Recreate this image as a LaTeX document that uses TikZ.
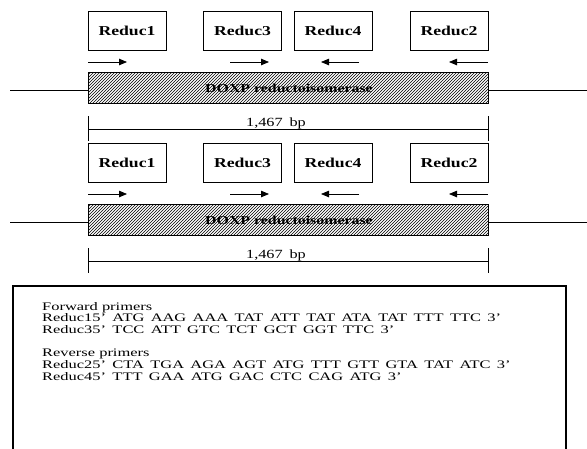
\documentclass[tikz,border=0pt]{standalone}
\usepackage{fontspec}
\setmainfont{Liberation Serif}[FakeStretch=1.3]
\newfontfamily\seqfont{Liberation Serif}[FakeStretch=1.43]
\usetikzlibrary{patterns,arrows.meta}
\newcommand\dsp{\hspace{0.55em}}
\pgfdeclarepatternformonly{densehatch}{\pgfqpoint{-1pt}{-1pt}}{\pgfqpoint{4pt}{4pt}}{\pgfqpoint{3pt}{3pt}}{%
  \pgfsetlinewidth{0.7pt}%
  \pgfpathmoveto{\pgfqpoint{0pt}{0pt}}%
  \pgfpathlineto{\pgfqpoint{3.1pt}{3.1pt}}%
  \pgfusepath{stroke}}
\begin{document}
\begin{tikzpicture}[x=1pt,y=-1pt,
  primerbox/.style={draw, line width=0.8pt, minimum width=78pt, minimum height=39pt, inner sep=0pt,
    font=\fontsize{13.6}{15}\selectfont\bfseries},
  genebox/.style={draw, line width=0.9pt, pattern=densehatch, minimum width=400pt, minimum height=31pt, inner sep=0pt},
  genelabel/.style={font=\fontsize{12.2}{14}\selectfont\bfseries, inner sep=0pt},
  primerarrow/.style={line width=0.8pt, -{Triangle[length=8pt,width=6.5pt]}},
  thinline/.style={line width=0.8pt},
  seqtext/.style={anchor=base west, inner sep=0pt, font=\seqfont\fontsize{11.5}{12}\selectfont},
  sizetext/.style={anchor=base, inner sep=0pt, font=\fontsize{12.5}{14}\selectfont}]
\useasboundingbox (0,0) rectangle (587,448);
\fill[white] (0,0) rectangle (587,448);

\foreach \oy in {0,132}{
  % primer boxes
  \node[primerbox] (r1-\oy) at (127,30.5+\oy) {Reduc1};
  \node[primerbox] (r3-\oy) at (242.5,30.5+\oy) {Reduc3};
  \node[primerbox] (r4-\oy) at (333,30.5+\oy) {Reduc4};
  \node[primerbox] (r2-\oy) at (449,30.5+\oy) {Reduc2};
  % primer arrows
  \coordinate (p1s-\oy) at (88,62+\oy);  \coordinate (p1e-\oy) at (127,62+\oy);
  \coordinate (p3s-\oy) at (230,62+\oy); \coordinate (p3e-\oy) at (269,62+\oy);
  \coordinate (p4s-\oy) at (359,62+\oy); \coordinate (p4e-\oy) at (321,62+\oy);
  \coordinate (p2s-\oy) at (488,62+\oy); \coordinate (p2e-\oy) at (449,62+\oy);
  \draw[primerarrow] (p1s-\oy) -- (p1e-\oy);
  \draw[primerarrow] (p3s-\oy) -- (p3e-\oy);
  \draw[primerarrow] (p4s-\oy) -- (p4e-\oy);
  \draw[primerarrow] (p2s-\oy) -- (p2e-\oy);
  % gene
  \node[genebox] (g-\oy) at (288,87.5+\oy) {};
  \node[genelabel] (gl-\oy) at (289,88+\oy) {DOXP reductoisomerase};
  \coordinate (fl-\oy) at (10,90+\oy);
  \coordinate (flx-\oy) at (88,90+\oy);
  \coordinate (frx-\oy) at (488,90+\oy);
  \coordinate (fr-\oy) at (587,90+\oy);
  \draw[thinline] (fl-\oy) -- (flx-\oy);
  \draw[thinline] (frx-\oy) -- (fr-\oy);
  % size bar
  \coordinate (tl-\oy) at (88,116+\oy);  \coordinate (bl-\oy) at (88,141+\oy);
  \coordinate (tr-\oy) at (488,116+\oy); \coordinate (br-\oy) at (488,141+\oy);
  \coordinate (ml-\oy) at (88,129+\oy);  \coordinate (mr-\oy) at (488,129+\oy);
  \draw[thinline] (tl-\oy) -- (bl-\oy);
  \draw[thinline] (tr-\oy) -- (br-\oy);
  \draw[thinline] (ml-\oy) -- (mr-\oy);
  \node[sizetext] (sz-\oy) at (276,126+\oy) {1,467\dsp bp};
}

% primer list frame (open at the bottom edge of the picture)
\coordinate (fa) at (13,455);
\coordinate (fb) at (13,286);
\coordinate (fc) at (566,286);
\coordinate (fd) at (566,455);
\draw[line width=1.6pt] (fa) -- (fb) -- (fc) -- (fd);

\node[seqtext] (t1) at (42,310) {Forward primers};
\node[seqtext] (t2) at (42,321.7) {Reduc15’\dsp ATG\dsp AAG\dsp AAA\dsp TAT\dsp ATT\dsp TAT\dsp ATA\dsp TAT\dsp TTT\dsp TTC\dsp 3’};
\node[seqtext] (t3) at (42,333.4) {Reduc35’\dsp TCC\dsp ATT\dsp GTC\dsp TCT\dsp GCT\dsp GGT\dsp TTC\dsp 3’};
\node[seqtext] (t4) at (42,356.8) {Reverse primers};
\node[seqtext] (t5) at (42,368.5) {Reduc25’\dsp CTA\dsp TGA\dsp AGA\dsp AGT\dsp ATG\dsp TTT\dsp GTT\dsp GTA\dsp TAT\dsp ATC\dsp 3’};
\node[seqtext] (t6) at (42,380.2) {Reduc45’\dsp TTT\dsp GAA\dsp ATG\dsp GAC\dsp CTC\dsp CAG\dsp ATG\dsp 3’};
\end{tikzpicture}
\end{document}
